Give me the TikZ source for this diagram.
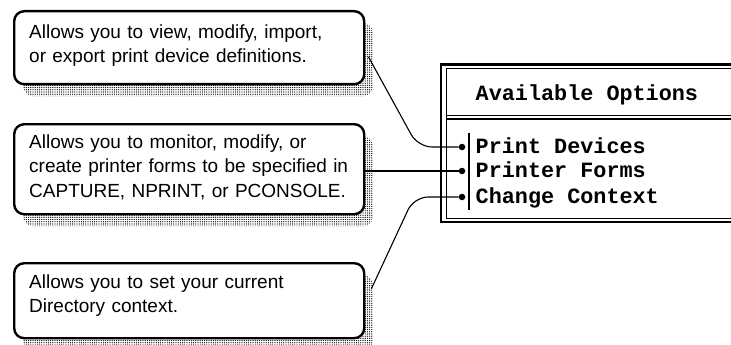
\documentclass[tikz,border=0pt]{standalone}
\usepackage{fontspec}
\setmainfont{Liberation Sans}
\newfontfamily\termfont{Liberation Mono}
\usetikzlibrary{patterns,patterns.meta,shadows,positioning}
\tikzset{
  callout/.style 2 args={
    draw, line width=2.4pt, rounded corners=10pt, fill=white,
    anchor=north west, text width=320pt, inner xsep=15pt, inner ysep=0pt,
    align=left, text height=#1, text depth=#2,
    font=\fontsize{19}{24.5}\selectfont,
    drop shadow={shadow xshift=9pt, shadow yshift=-12pt, opacity=1,
      pattern={Dots[distance=2.2pt, radius=0.65pt]}, pattern color=black}
  },
  link/.style={line width=1.1pt},
  dot/.style={circle, fill, inner sep=0pt, minimum size=6.5pt},
  entry/.style={anchor=base west, inner sep=0pt,
    font=\termfont\bfseries\fontsize{21.8}{24}\selectfont}
}

\begin{document}
\begin{tikzpicture}[x=1pt,y=-1pt]
  \useasboundingbox (0,0) rectangle (731,345);
  \clip (0,0) rectangle (731,345);

  % help boxes
  \node[callout={27pt}{46pt}] (note1) at (13,10)
    {Allows you to view, modify, import,\\ or export print device definitions.};
  \node[callout={24pt}{66pt}] (note2) at (13,123)
    {Allows you to monitor, modify, or\\ create printer forms to be specified in\\ CAPTURE, NPRINT, or PCONSOLE.};
  \node[callout={25pt}{50pt}] (note3) at (13,262)
    {Allows you to set your current\\ Directory context.};

  % menu frame
  \draw[line width=2.5pt] (441.2,64.5) rectangle (745,222);
  \draw[line width=1.2pt] (446.5,68.5) rectangle (745,218.8);
  \draw[line width=1.2pt] (446.5,115.6) -- (745,115.6)
                          (446.5,118.9) -- (745,118.9);
  \draw[line width=1.6pt] (469,133) -- (469,210);
  \node[entry] (title) at (475.5,100) {Available Options};

  \foreach \i/\ypos/\txt in {1/147/Print Devices,2/171/Printer Forms,3/197/Change Context}{
    \node[dot] (b\i) at (462,\ypos) {};
    \node[entry] (opt\i) at (475.5,\ypos+6.3) {\txt};
  }

  % leader lines
  \draw[link, rounded corners=14pt] ([shift={(3,9)}]note1.east) -- (418,147) -- (b1);
  \draw[link] (note2.east |- b2) -- (b2);
  \draw[link, rounded corners=14pt] ([shift={(6,-12)}]note3.east) -- (414,197) -- (b3);
\end{tikzpicture}
\end{document}
